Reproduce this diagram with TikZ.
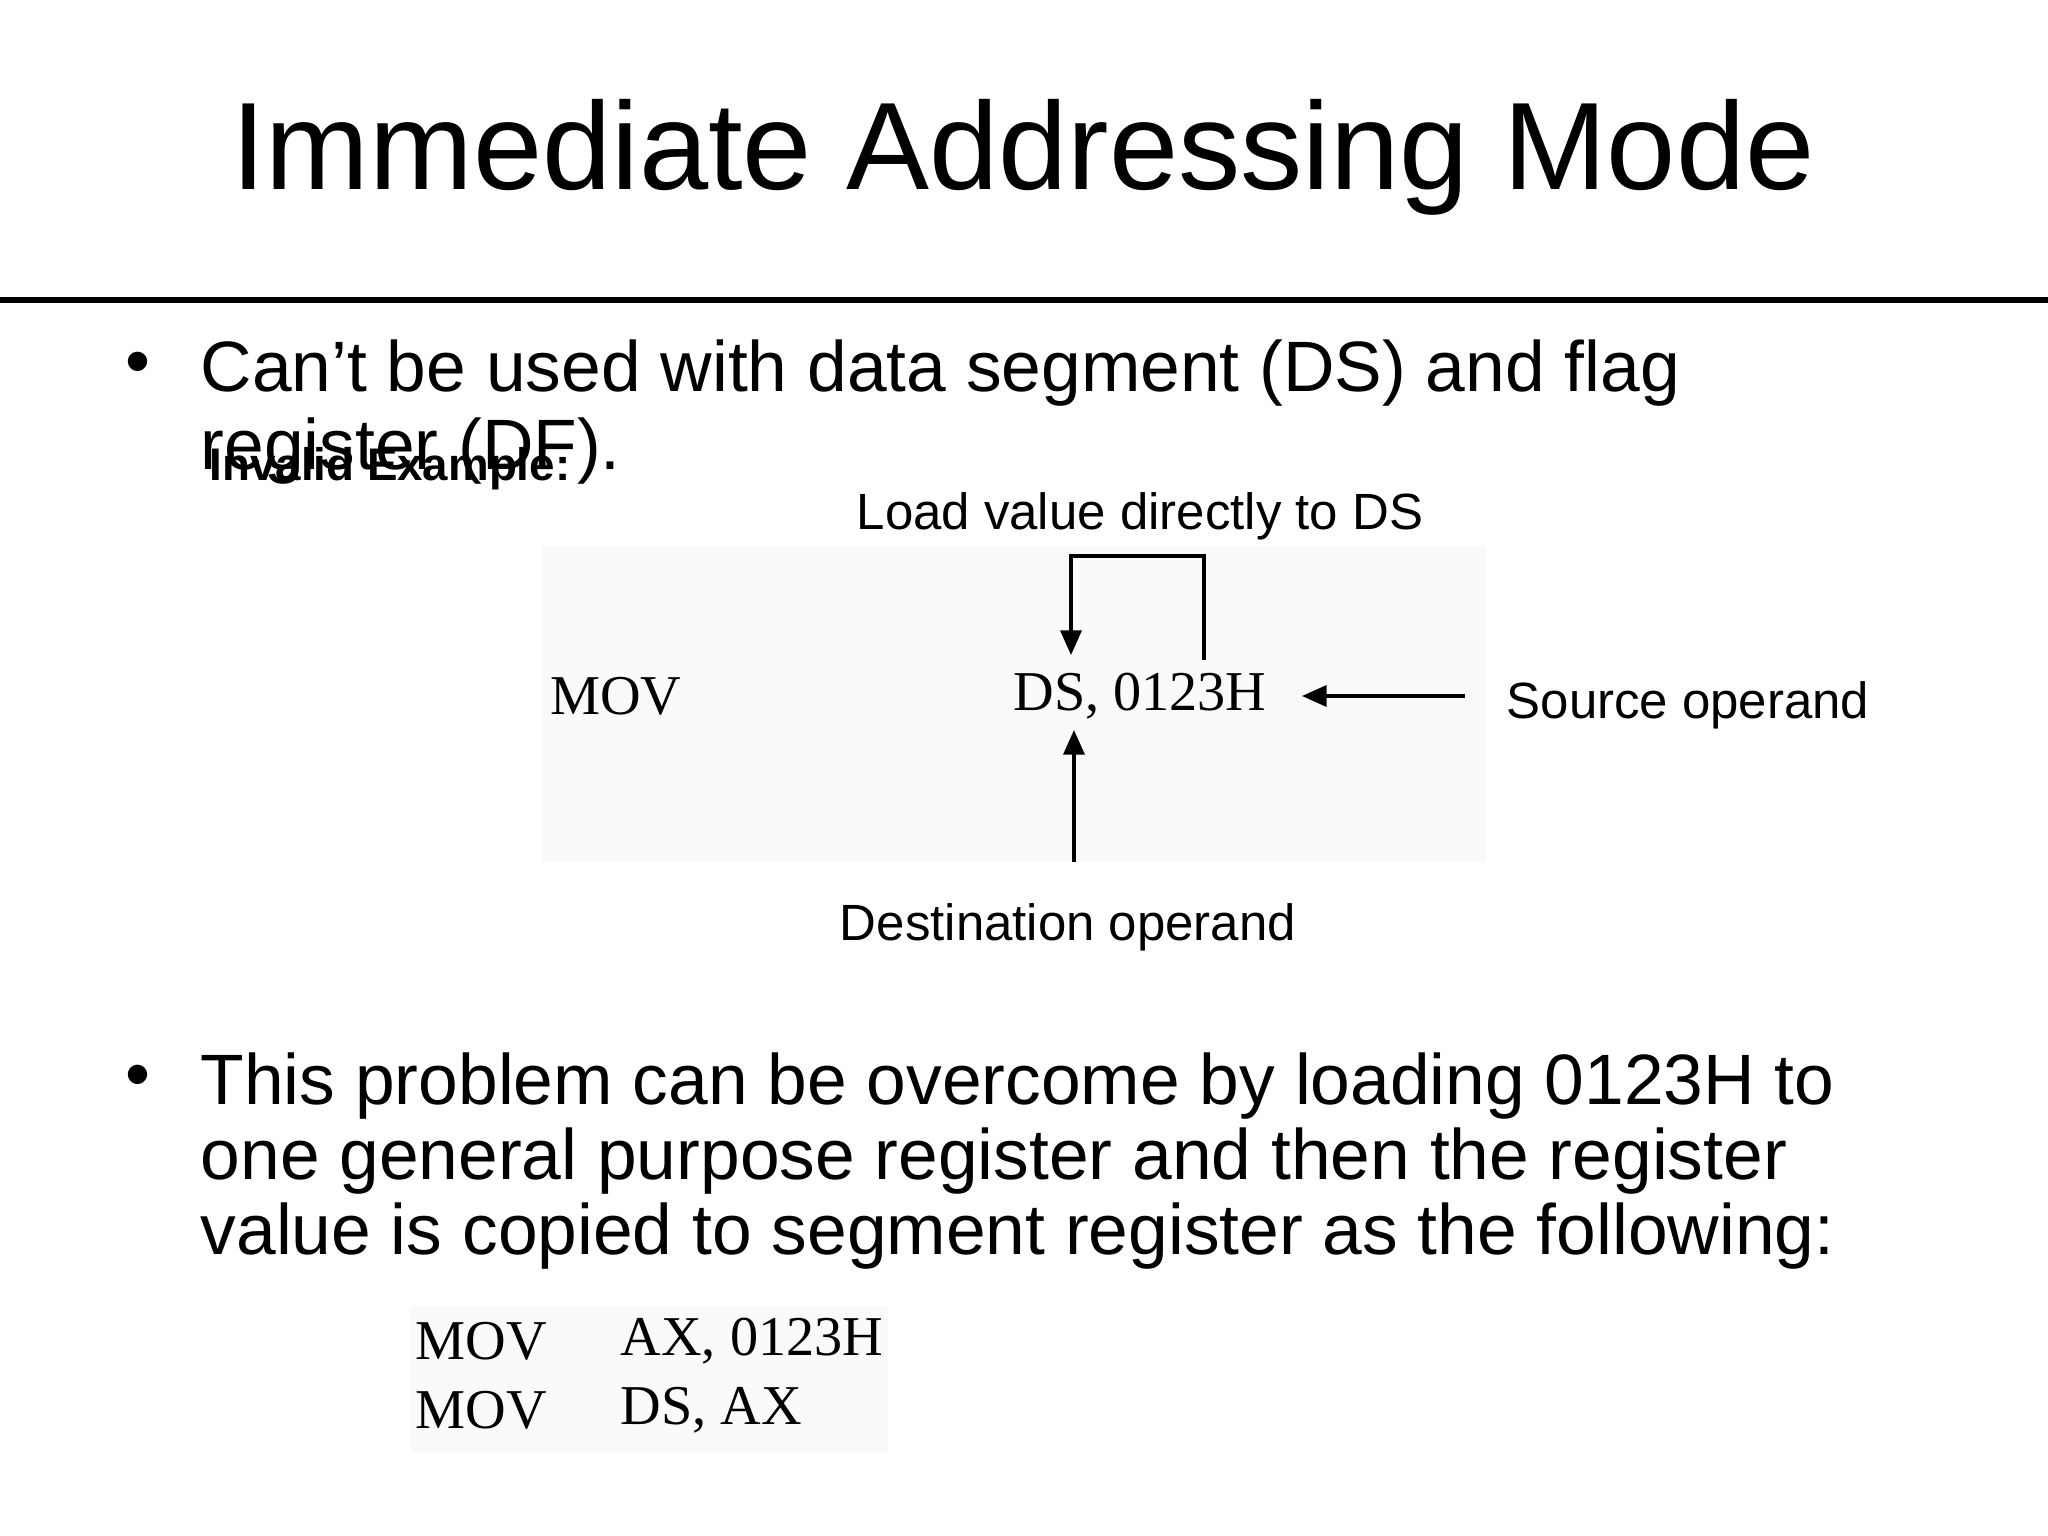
\documentclass[tikz,border=0pt]{standalone}
\usepackage{fontspec}
\setmainfont{Liberation Sans}
\newfontfamily\codefont{Liberation Serif}
\usetikzlibrary{arrows.meta}
\begin{document}
\begin{tikzpicture}[
  body/.style={anchor=base west,font=\fontsize{20.3}{25}\selectfont,inner sep=0},
  lbl/.style={font=\fontsize{14.5}{17}\selectfont,inner sep=0},
  code/.style={font=\codefont\fontsize{16}{19}\selectfont,inner sep=0},
  arr/.style={line width=0.9pt,-{Triangle[length=7pt,width=6pt]}}]
\useasboundingbox (0,0) rectangle (20.48,-15.36);
\node (title) at (10.23,-1.57) {\fontsize{35.4}{40}\selectfont Immediate Addressing Mode};
\draw[line width=1.5pt] (0,-3.0) -- (20.48,-3.0);
\node[body] (b1) at (1.25,-3.86) {•};
\node[body] (t1) at (2.0,-3.92) {Can’t be used with data segment (DS) and flag};
\node[body] (t1b) at (2.0,-4.70) {register (DF).};
\node[anchor=base west,inner sep=0,font=\bfseries\fontsize{13}{15}\selectfont] (inv) at (2.09,-4.81) {Invalid Example:};
\fill[black!2] (5.42,-5.46) rectangle (14.86,-8.62);
\node[code] (mov) at (6.16,-6.96) {MOV};
\node[code] (ds) at (11.40,-6.96) {DS, 0123H};
\node[lbl] (load) at (11.40,-5.16) {Load value directly to DS};
\node[lbl,anchor=west] (src) at (15.06,-7.05) {Source operand};
\node[lbl] (dst) at (10.68,-9.27) {Destination operand};
\coordinate (lr) at (12.04,-6.60);
\draw[arr] (lr) -- (12.04,-5.56) -- (10.71,-5.56) -- (10.71,-6.55);
\coordinate (sa) at (14.65,-6.96);
\draw[arr] (sa) -- (13.02,-6.96);
\coordinate (da) at (10.74,-8.62);
\draw[arr] (da) -- (10.74,-7.30);
\node[body] (b2) at (1.25,-10.98) {•};
\node[body] (t2a) at (2.0,-11.04) {This problem can be overcome by loading 0123H to};
\node[body] (t2b) at (2.0,-11.79) {one general purpose register and then the register};
\node[body] (t2c) at (2.0,-12.54) {value is copied to segment register as the following:};
\fill[black!2] (4.11,-13.06) rectangle (8.88,-14.52);
\node[code,anchor=west] (c1a) at (4.15,-13.41) {MOV};
\node[code,anchor=west] (c1b) at (6.20,-13.41) {AX, 0123H};
\node[code,anchor=west] (c2a) at (4.15,-14.10) {MOV};
\node[code,anchor=west] (c2b) at (6.20,-14.10) {DS, AX};
\end{tikzpicture}
\end{document}
